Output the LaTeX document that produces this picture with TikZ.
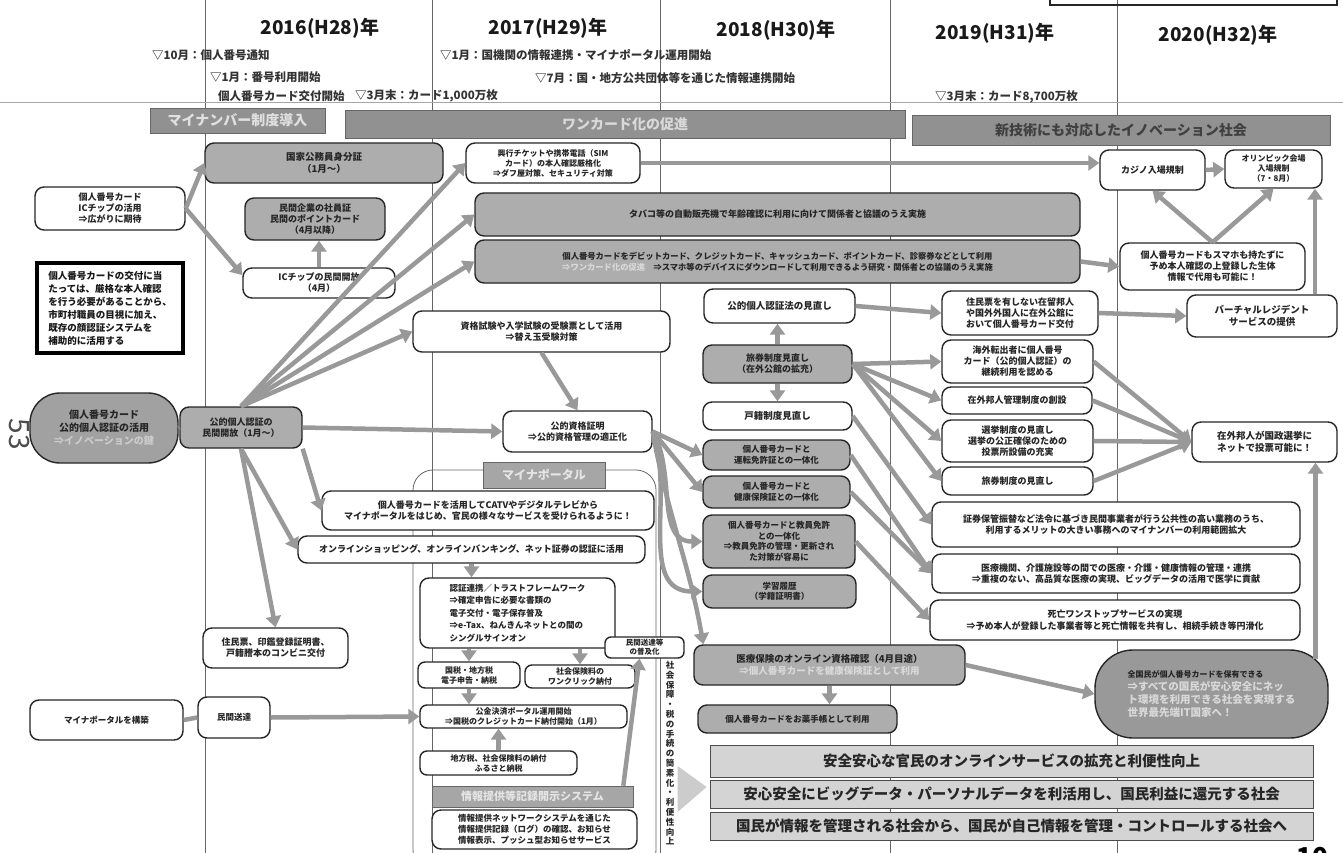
\documentclass[tikz,border=0pt]{standalone}
\usepackage{fontspec}
\setmainfont{Noto Sans CJK JP}
\usetikzlibrary{arrows.meta,calc}

\tikzset{
  fs/.style 2 args={font=\fontsize{#1}{#2}\selectfont\bfseries},
  box/.style={draw=black!85, line width=1.4pt, rounded corners=9pt, fill=white,
    align=center, inner sep=1pt, text=black!85, fs={8.5}{10.5}},
  gbox/.style={box, fill=black!32},
  notebox/.style={draw=black, line width=3.5pt, fill=white, align=left,
    inner sep=2pt, text=black!90, fs={9.5}{13}},
  phase/.style={draw=black!60, line width=0.6pt, fill=black!43, inner sep=0pt,
    fs={14}{16}},
  goal/.style={draw=black!70, line width=0.8pt, fill=black!17, inner sep=0pt,
    text=black!85, fs={14.5}{16}},
  lab/.style={draw=black!60, line width=0.6pt, fill=black!35, inner sep=0pt,
    text=black!10},
  ga/.style={draw=black!40, line width=4.5pt, -{Triangle[length=11pt,width=15pt]}},
  gl/.style={draw=black!40, line width=4.5pt},
  tl/.style={anchor=west, inner sep=0pt, text=black!80, fs={11.5}{14}},
  year/.style={inner sep=0pt, text=black!90, fs={19}{21}},
  grid/.style={draw=black!60, line width=0.9pt},
}

% \bx{style}{name}{x1}{y1}{x2}{y2}{text}: node filling the given pixel box
\newcommand\bx[7]{\node[#1, minimum width={(#5-#3)*1pt}, minimum height={(#6-#4)*1pt}]
  (#2) at ({(#3+#5)/2},{(#4+#6)/2}) {#7};}

\begin{document}
\begin{tikzpicture}[x=1pt,y=-1pt]
\useasboundingbox (0,0) rectangle (1343,853);
\clip (0,0) rectangle (1343,853);
\fill[white] (0,0) rectangle (1343,853);

% ---------- year grid ----------
\foreach \gx in {205,432,660,890,1117} \draw[grid] (\gx,0) -- (\gx,853);
\draw[draw=black!35, line width=0.8pt] (0,102) -- (1343,102);
\draw[black!85, line width=1.2pt] (1050,-10) rectangle (1337,5);

\node[year] (y16) at (320,28) {2016(H28)年};
\node[year] (y17) at (548,28) {2017(H29)年};
\node[year] (y18) at (776,30) {2018(H30)年};
\node[year] (y19) at (995,33) {2019(H31)年};
\node[year] (y20) at (1218,35) {2020(H32)年};

% ---------- milestones ----------
\node[tl] (m1) at (152,55) {▽10月：個人番号通知};
\node[tl] (m2) at (210,77) {▽1月：番号利用開始};
\node[tl] (m3) at (218,96) {個人番号カード交付開始};
\node[tl] (m4) at (355,96) {▽3月末：カード1,000万枚};
\node[tl] (m5) at (440,55) {▽1月：国機関の情報連携・マイナポータル運用開始};
\node[tl] (m6) at (535,78) {▽7月：国・地方公共団体等を通じた情報連携開始};
\node[tl] (m7) at (935,97) {▽3月末：カード8,700万枚};

% ---------- phases ----------
\bx{phase, text=black!12}{ph1}{150}{108}{325}{133}{マイナンバー制度導入}
\bx{phase, text=black!15}{ph2}{345}{110}{905}{138}{ワンカード化の促進}
\bx{phase, text=black!75}{ph3}{912}{115}{1330}{145}{新技術にも対応したイノベーション社会}

% ---------- portal frame ----------
\draw[black!60, line width=0.8pt, rounded corners=20pt] (413,470) rectangle (656,870);

% ---------- left column ----------
\bx{box, fs={9}{11}}{chip}{35}{187}{185}{230}{個人番号カード\\ICチップの活用\\⇒広がりに期待}
\bx{notebox}{note}{37}{263}{183}{353}{個人番号カードの交付に当\\たっては、厳格な本人確認\\を行う必要があることから、\\市町村職員の目視に加え、\\既存の顔認証システムを\\補助的に活用する}
\bx{gbox, rounded corners=30pt, fs={10}{13}, fill=black!37}{key}{30}{393}{178}{463}{個人番号カード\\公的個人認証の活用\\\textcolor{black!20}{⇒イノベーションの鍵}}
\bx{box}{build}{30}{700}{183}{740}{マイナポータルを構築}

% ---------- 2016 ----------
\bx{gbox, fs={9.5}{12}}{kokka}{205}{143}{443}{183}{国家公務員身分証\\（1月～）}
\bx{gbox, fs={9}{11}}{minkan}{245}{198}{385}{240}{民間企業の社員証\\民間のポイントカード\\（4月以降）}
\bx{box, fs={9}{11}}{chipopen}{243}{268}{395}{298}{ICチップの民間開放\\（4月）}
\bx{gbox, fs={9}{11}}{jpki}{180}{407}{302}{448}{公的個人認証の\\民間開放（1月～）}
\bx{box, fs={9}{11}}{conv}{203}{628}{348}{668}{住民票、印鑑登録証明書、\\戸籍謄本のコンビニ交付}
\bx{box}{sotatsu}{198}{697}{270}{738}{民間送達}

% ---------- 2017 ----------
\bx{box, fs={8}{10}}{ticket}{466}{143}{640}{183}{興行チケットや携帯電話（SIM\\カード）の本人確認厳格化\\⇒ダフ屋対策、セキュリティ対策}
\bx{gbox, fs={9}{11}}{tabako}{475}{193}{1080}{236}{タバコ等の自動販売機で年齢確認に利用に向けて関係者と協議のうえ実施}
\bx{gbox, fs={8.3}{11}}{onecard}{475}{240}{1080}{283}{個人番号カードをデビットカード、クレジットカード、キャッシュカード、ポイントカード、診察券などとして利用\\\textcolor{black!15}{⇒ワンカード化の促進}\quad ⇒スマホ等のデバイスにダウンロードして利用できるよう研究・関係者との協議のうえ実施}
\bx{box, fs={9}{11}}{exam}{413}{311}{670}{352}{資格試験や入学試験の受験票として活用\\⇒替え玉受験対策}
\bx{box, fs={9}{11}}{shikaku}{503}{411}{652}{452}{公的資格証明\\⇒公的資格管理の適正化}
\bx{lab, fs={12}{14}}{plabel}{483}{462}{605}{488}{マイナポータル}
\bx{box, fs={9}{11}}{catv}{322}{491}{654}{530}{個人番号カードを活用してCATVやデジタルテレビから\\マイナポータルをはじめ、官民の様々なサービスを受けられるように！}
\bx{box, fs={9}{11}}{online}{298}{536}{645}{563}{オンラインショッピング、オンラインバンキング、ネット証券の認証に活用}
\bx{box, fs={8.5}{12.5}, align=left}{trust}{420}{578}{615}{648}{認証連携／トラストフレームワーク\\⇒確定申告に必要な書類の\\電子交付・電子保存普及\\⇒e-Tax、ねんきんネットとの間の\\シングルサインオン}
\bx{box, fs={7.5}{9}, rounded corners=6pt}{sotatsu2}{605}{637}{684}{658}{民間送達等\\の普及化}
\bx{box, fs={8}{10}, rounded corners=7pt}{kokuzei}{418}{662}{520}{688}{国税・地方税\\電子申告・納税}
\bx{box, fs={8}{10}, rounded corners=7pt}{hoken}{525}{665}{635}{688}{社会保険料の\\ワンクリック納付}
\bx{box, fs={8}{10}, rounded corners=7pt}{kokin}{420}{705}{627}{728}{公金決済ポータル運用開始\\⇒国税のクレジットカード納付開始（1月）}
\bx{box, fs={8}{10}, rounded corners=7pt}{chihou}{420}{751}{577}{775}{地方税、社会保険料の納付\\ふるさと納税}
\bx{lab, fs={11}{13}}{kiroku}{432}{786}{633}{807}{情報提供等記録開示システム}
\bx{box, fs={8.5}{11}}{push}{432}{810}{637}{849}{情報提供ネットワークシステムを通じた\\情報提供記録（ログ）の確認、お知らせ\\情報表示、プッシュ型お知らせサービス}

% ---------- 2018 ----------
\bx{box, fs={9.5}{12}}{jpkilaw}{704}{289}{855}{323}{公的個人認証法の見直し}
\bx{gbox, fs={9}{11}}{passport}{703}{345}{852}{383}{旅券制度見直し\\（在外公館の拡充）}
\bx{box, fs={9.5}{12}}{koseki}{703}{402}{852}{430}{戸籍制度見直し}
\bx{gbox, fs={8.5}{10.5}}{unten}{703}{440}{850}{470}{個人番号カードと\\運転免許証との一体化}
\bx{gbox, fs={8.5}{10.5}}{kenpo}{703}{476}{850}{508}{個人番号カードと\\健康保険証との一体化}
\bx{gbox, fs={8.5}{10.5}}{kyoin}{703}{515}{855}{568}{個人番号カードと教員免許\\との一体化\\⇒教員免許の管理・更新され\\た対策が容易に}
\bx{gbox, fs={8.5}{10.5}}{gakushu}{703}{575}{856}{608}{学習履歴\\（学籍証明書）}
\bx{gbox, fs={9.5}{12}}{iryo}{694}{645}{965}{685}{医療保険のオンライン資格確認（4月目途）\\\textcolor{black!15}{⇒個人番号カードを健康保険証として利用}}
\bx{gbox, fs={8.5}{10.5}}{okusuri}{698}{705}{897}{733}{個人番号カードをお薬手帳として利用}

\bx{goal}{bar1}{710}{745}{1313}{777}{安全安心な官民のオンラインサービスの拡充と利便性向上}
\bx{goal}{bar2}{710}{780}{1313}{808}{安心安全にビッグデータ・パーソナルデータを利活用し、国民利益に還元する社会}
\bx{goal}{bar3}{710}{812}{1313}{840}{国民が情報を管理される社会から、国民が自己情報を管理・コントロールする社会へ}

% ---------- 2019 ----------
\bx{box, fs={9}{11}}{zairyu}{942}{291}{1098}{335}{住民票を有しない在留邦人\\や国外外国人に在外公館に\\おいて個人番号カード交付}
\bx{box, fs={9}{11}}{tenshutsu}{942}{340}{1093}{383}{海外転出者に個人番号\\カード（公的個人認証）の\\継続利用を認める}
\bx{box, fs={9}{11}}{zaigai}{942}{387}{1092}{414}{在外邦人管理制度の創設}
\bx{box, fs={9}{11}}{senkyo}{942}{420}{1093}{462}{選挙制度の見直し\\選挙の公正確保のための\\投票所設備の充実}
\bx{box, fs={9}{11}}{ryoken}{942}{467}{1093}{495}{旅券制度の見直し}
\bx{box, fs={9}{11.5}}{shoken}{932}{502}{1300}{547}{証券保管振替など法令に基づき民間事業者が行う公共性の高い業務のうち、\\利用するメリットの大きい事務へのマイナンバーの利用範囲拡大}
\bx{box, fs={9}{11.5}}{iryokaigo}{932}{554}{1300}{593}{医療機関、介護施設等の間での医療・介護・健康情報の管理・連携\\⇒重複のない、高品質な医療の実現、ビッグデータの活用で医学に貢献}
\bx{box, fs={9}{11.5}}{shibou}{930}{600}{1300}{640}{死亡ワンストップサービスの実現\\⇒予め本人が登録した事業者等と死亡情報を共有し、相続手続き等円滑化}

% ---------- 2020 ----------
\bx{box, fs={9}{11}}{casino}{1100}{150}{1205}{190}{カジノ入場規制}
\bx{box, fs={8}{10}}{olympic}{1225}{150}{1322}{188}{オリンピック会場\\入場規制\\（7・8月）}
\bx{box, fs={9}{11}}{seitai}{1120}{243}{1305}{290}{個人番号カードもスマホも持たずに\\予め本人確認の上登録した生体\\情報で代用も可能に！}
\bx{box, fs={9.5}{12}}{virtual}{1187}{295}{1337}{337}{バーチャルレジデント\\サービスの提供}
\bx{box, fs={9.5}{12}}{vote}{1192}{422}{1337}{462}{在外邦人が国政選挙に\\ネットで投票可能に！}
\bx{gbox, rounded corners=38pt, fill=black!40, fs={10.5}{13}, align=left}{all}{1095}{650}{1328}{738}{{\fontsize{8}{10}\selectfont 全国民が個人番号カードを保有できる}\\\textcolor{black!15}{⇒すべての国民が安心安全にネッ}\\\textcolor{black!15}{ト環境を利用できる社会を実現する}\\\textcolor{black!15}{世界最先端IT国家へ！}}

% ---------- page marks ----------
\node[rotate=-90, font=\fontsize{28}{30}\selectfont, text=black!70, inner sep=0pt] (pg) at (19,434) {53};
\node[font=\fontsize{26}{28}\selectfont\bfseries, inner sep=0pt] (pg2) at (1312,857) {10};

% ---------- vertical caption and goal arrow ----------
\fill[black!20] ($(bar2.west)+(-32,-28)$) -- ($(bar2.west)+(-3,-7)$) -- ($(bar2.west)+(-32,18)$) -- cycle;
\node[fs={8.5}{9.8}, align=center, anchor=north, inner sep=0pt, text=black!85] (vcap) at (670,661)
  {社\\会\\保\\障\\・\\税\\の\\手\\続\\の\\簡\\素\\化\\・\\利\\便\\性\\向\\上};

% ---------- connectors ----------
\draw[ga] (chip.east) -- (kokka.west);
\draw[ga] (chip.east) -- ([yshift=8pt]chipopen.west);
\draw[ga] (chipopen.north) -- (chipopen.north |- minkan.south);
\draw[gl] (key.east) -- (jpki.west);
\draw[ga] (jpki.north) -- (ticket.west);
\draw[ga] (jpki.north) -- (tabako.west);
\draw[ga] (jpki.north) -- (onecard.west);
\draw[ga] (jpki.north) -- (exam.west);
\draw[ga] (jpki.east) -- (shikaku.west);
\draw[ga] (jpki.south east) -- (catv.west);
\draw[ga] (jpki.south) -- (online.west);
\draw[ga] (jpki.south) -- (conv.north);
\draw[gl] (build.east) -- (sotatsu.west);
\draw[ga] (sotatsu.east) -- (kokin.west);

\draw[ga] (ticket.east) -- (casino.west |- ticket.east);
\draw[ga] (casino.east) -- (olympic.west);
\draw[ga] (seitai.north) -- (casino.south);
\draw[ga] (seitai.north) -- (olympic.south);
\draw[ga] (onecard.east) -- (seitai.west);
\coordinate (vtop) at ($(virtual.north)+(53,0)$);
\draw[ga] (vtop) -- (vtop |- olympic.south);
\draw[ga] (zairyu.east) -- (virtual.west);
\foreach \s in {tenshutsu,zaigai,senkyo,ryoken} \draw[ga] (\s.east) -- (vote.west);
\coordinate (atop) at ($(all.north)+(104,10)$);
\draw[ga] (atop) -- (atop |- vote.south);

\draw[ga] (exam.south) -- (shikaku.north);
\draw[ga] (online.south) -- (online.south |- trust.north);
\draw[ga] (kokuzei.north |- trust.south) -- (kokuzei.north);
\draw[ga] (hoken.north |- trust.south) -- (hoken.north);
\draw[ga] (kokuzei.south) -- (kokuzei.south |- kokin.north);
\draw[ga] (chihou.north) -- (chihou.north |- kokin.south);
\draw[ga] ($(kiroku.north east)+(-10,0)$) -- ($(sotatsu2.south)+(-5,0)$);

\draw[ga] (shikaku.east) -- (unten.west);
\draw[ga] (shikaku.east) -- (kenpo.west);
\draw[ga] (shikaku.east) to[out=-60,in=180] (kyoin.west);
\draw[ga] (shikaku.east) to[out=-70,in=180] (gakushu.west);
\draw[ga] (shikaku.east) to[out=-80,in=100] ($(iryo.north west)+(10,0)$);

\draw[ga] (passport.north) -- (passport.north |- jpkilaw.south);
\draw[ga] (passport.south) -- (passport.south |- koseki.north);
\draw[ga] (jpkilaw.east) -- (zairyu.west);
\foreach \t in {tenshutsu,zaigai,senkyo,ryoken} \draw[ga] (passport.east) -- (\t.west);
\draw[ga] (koseki.east) -- (shoken.west);
\draw[ga] (unten.east) -- (iryokaigo.west);
\draw[ga] (kenpo.east) -- (iryokaigo.west);
\draw[ga] (kyoin.east) -- (shibou.west);
\draw[ga] (iryo.south) -- (iryo.south |- okusuri.north);
\draw[ga] (iryo.east) -- (all.west);
\end{tikzpicture}
\end{document}
